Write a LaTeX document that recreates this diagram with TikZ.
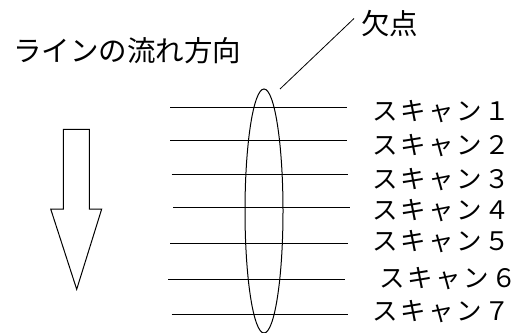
\documentclass[tikz,border=0pt]{standalone}
\usepackage{fontspec}
\setmainfont{Noto Sans CJK JP}
\newfontfamily\labfont{Noto Sans CJK JP}[LetterSpace=10]
\usetikzlibrary{shapes.geometric}
\begin{document}
\begin{tikzpicture}[x=1pt,y=-1pt,
  ln/.style={line width=1pt},
  lbl/.style={anchor=west,inner sep=0pt,font=\labfont\fontsize{25.5}{25.5}\selectfont},
  ttl/.style={anchor=west,inner sep=0pt,font=\fontsize{28.5}{28.5}\selectfont}]
\useasboundingbox (0,0) rectangle (519,332);
% title
\node[ttl] (title) at (13,51) {ラインの流れ方向};
\node[ttl] (defect) at (361,23.5) {欠点};
% arrow
\draw[ln] (63.3,129.3) -- (89.3,129.3) -- (89.3,209) -- (101.7,209) -- (76.7,289.3) -- (50.7,209) -- (63.3,209) -- cycle;
% scan lines
\foreach \i/\y/\a/\b in {1/107.3/170/347,2/140/170/347,3/174.3/171.7/348,4/207.3/173/350,5/243.3/170/348,6/279.3/168/345,7/314/171.7/348}{
  \coordinate (l\i a) at (\a,\y);
  \coordinate (l\i b) at (\b,\y);
  \draw[ln] (l\i a) -- (l\i b);
}
% labels
\node[lbl] (s1) at (372,112) {スキャン１};
\node[lbl] (s2) at (372,146) {スキャン２};
\node[lbl] (s3) at (372,180) {スキャン３};
\node[lbl] (s4) at (372,211) {スキャン４};
\node[lbl] (s5) at (372,242) {スキャン５};
\node[lbl] (s6) at (379,279) {スキャン６};
\node[lbl] (s7) at (372,312) {スキャン７};
% defect ellipse
\node[draw,ln,ellipse,inner sep=0pt,minimum width=38,minimum height=244] (ell) at (264,211) {};
\coordinate (lead) at (280,89);
\draw[line width=0.8pt] (lead) -- ([xshift=-7pt,yshift=5pt]defect.west);
\end{tikzpicture}
\end{document}
